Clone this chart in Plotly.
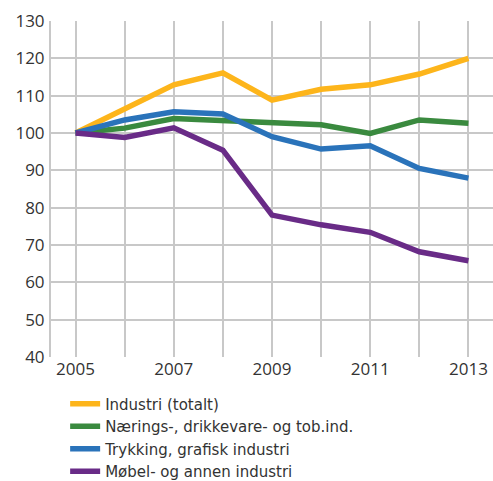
import plotly.graph_objects as go

years = [2005, 2006, 2007, 2008, 2009, 2010, 2011, 2012, 2013]
industri = [100, 106.6, 112.9, 116.1, 108.8, 111.7, 112.9, 115.8, 120.0]
naerings = [100, 101.3, 103.9, 103.3, 102.8, 102.2, 99.9, 103.5, 102.6]
trykking = [100, 103.5, 105.7, 105.1, 99.0, 95.7, 96.6, 90.5, 87.9]
mobel = [100, 98.8, 101.4, 95.4, 78.0, 75.4, 73.4, 68.2, 65.8]

series_names = ["Industri (totalt)", "Nærings-, drikkevare- og tob.ind.",
                "Trykking, grafisk industri", "Møbel- og annen industri"]
colors = ["#FDB51B", "#3A8A3F", "#2A73BA", "#692B87"]
x_ticktext = ["2005", "", "2007", "", "2009", "", "2011", "", "2013"]
y_ticks = [40, 50, 60, 70, 80, 90, 100, 110, 120, 130]

fig = go.Figure()
for name, vals, c in zip(series_names, [industri, naerings, trykking, mobel], colors):
    fig.add_trace(go.Scatter(x=years, y=vals, mode="lines", name=name,
                             line=dict(color=c, width=5.5)))

grid = "#C8C8C8"
fig.update_layout(
    width=493, height=481,
    margin=dict(l=51, r=0, t=21, b=124, autoexpand=False),
    paper_bgcolor="white", plot_bgcolor="white",
    font=dict(family="Open Sans, sans-serif", size=17, color="#333333"),
    showlegend=True,
    legend=dict(orientation="v", x=0.032, xanchor="left", y=-0.091, yanchor="top",
                font=dict(family="DejaVu Sans, sans-serif", size=15, color="#333333"),
                tracegroupgap=0, itemwidth=30, bgcolor="rgba(0,0,0,0)", borderwidth=0),
    xaxis=dict(range=[2004.5, 2013.5], tickvals=years, ticktext=x_ticktext,
               showgrid=True, gridcolor=grid, gridwidth=2, zeroline=False,
               showline=False, ticks="", automargin=False, ticklabeloverflow="allow",
               tickfont=dict(size=17, color="#333333")),
    yaxis=dict(range=[40, 130], tickvals=y_ticks, showgrid=True, gridcolor=grid,
               gridwidth=2, zeroline=False, showline=True, linecolor=grid, linewidth=2,
               ticks="", ticklabelstandoff=1, automargin=False,
               tickfont=dict(size=17, color="#333333")),
)
fig.write_html("out.html", config={"displayModeBar": False},
               post_script="document.body.style.margin='0';")
